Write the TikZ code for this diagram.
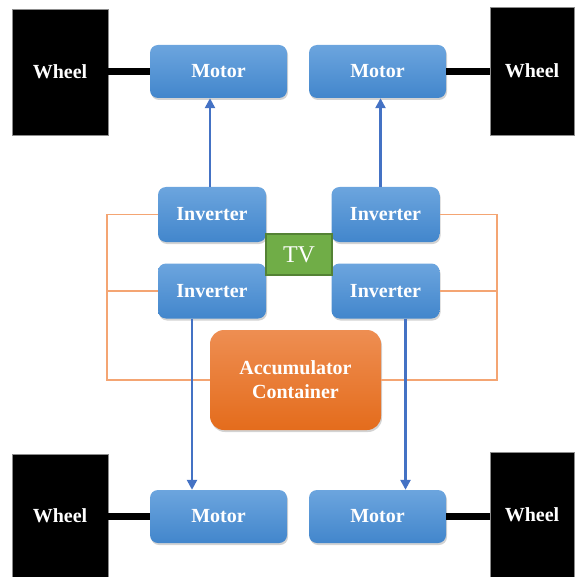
\documentclass[tikz,border=0pt]{standalone}
\usepackage{fontspec}
\setmainfont{Liberation Serif}
\usepackage{xcolor}
\usepackage{tikz}
\usetikzlibrary{shadows,arrows.meta}
\definecolor{boxtop}{RGB}{108,165,222}
\definecolor{boxbot}{RGB}{66,134,204}
\definecolor{acctop}{RGB}{238,142,82}
\definecolor{accbot}{RGB}{228,108,28}
\definecolor{tvfill}{RGB}{112,173,71}
\definecolor{tvline}{RGB}{84,130,53}
\definecolor{busline}{RGB}{244,165,115}
\definecolor{feed}{RGB}{68,114,196}

\begin{document}
\begin{tikzpicture}[x=1pt, y=-1pt,
  wheelbox/.style={draw=black!45, fill=black, minimum width=96pt, minimum height=126pt, text=white, font=\bfseries\fontsize{20}{22}\selectfont},
  bluebox/.style={rounded corners=8pt, top color=boxtop, bottom color=boxbot, draw=none, text=white, font=\bfseries\fontsize{20}{22}\selectfont, drop shadow={opacity=0.35, shadow xshift=1pt, shadow yshift=-2pt}},
  motorbox/.style={bluebox, minimum width=137pt, minimum height=53pt},
  invbox/.style={bluebox, minimum width=108pt, minimum height=55pt},
  axle/.style={line width=7pt, black},
  bus/.style={line width=1.4pt, busline},
  feedline/.style={line width=2.4pt, feed, -{Triangle[length=10pt, width=10pt]}}]
\useasboundingbox (0,0) rectangle (574,577);
\node[wheelbox] (wTL) at (60,72) {Wheel};
\node[wheelbox, minimum width=84pt, minimum height=128pt] (wTR) at (532,71) {Wheel};
\node[wheelbox, minimum height=124pt] (wBL) at (60,516) {Wheel};
\node[wheelbox, minimum width=84pt, minimum height=125pt] (wBR) at (532,514.5) {Wheel};
\node[motorbox] (mTL) at (218.5,71.5) {Motor};
\node[motorbox] (mTR) at (377.5,71.5) {Motor};
\node[motorbox] (mBL) at (218.5,516.5) {Motor};
\node[motorbox] (mBR) at (377.5,516.5) {Motor};
\node[invbox] (iTL) at (212,214.5) {Inverter};
\node[invbox] (iTR) at (385.5,214.5) {Inverter};
\node[invbox] (iBL) at (212,291) {Inverter};
\node[invbox] (iBR) at (385.5,291) {Inverter};
\node[draw=tvline, line width=1.2pt, fill=tvfill, minimum width=66pt, minimum height=41pt, text=white, font=\fontsize{24}{26}\selectfont] (tv) at (299,254.5) {TV};
\node[rounded corners=14pt, top color=acctop, bottom color=accbot, minimum width=171pt, minimum height=100pt, align=center, text=white, font=\bfseries\fontsize{20}{24}\selectfont, drop shadow={opacity=0.35, shadow xshift=1pt, shadow yshift=-2pt}] (acc) at (295.5,380) {Accumulator\\Container};
\coordinate (lbus) at (107,300);
\coordinate (rbus) at (497,300);
\draw[axle] (mTL.west) -- (mTL.west -| wTL.east);
\draw[axle] (mTR.east) -- (mTR.east -| wTR.west);
\draw[axle] (mBL.west) -- (mBL.west -| wBL.east);
\draw[axle] (mBR.east) -- (mBR.east -| wBR.west);
\draw[bus] (iTL.west) -- (iTL.west -| lbus) |- (acc.west);
\draw[bus] (iBL.west) -- (iBL.west -| lbus);
\draw[bus] (iTR.east) -- (iTR.east -| rbus) |- (acc.east);
\draw[bus] (iBR.east) -- (iBR.east -| rbus);
\draw[feedline] ([xshift=-2pt]iTL.north) -- ([xshift=-2pt]iTL.north |- mTL.south);
\draw[feedline] ([xshift=-5pt]iTR.north) -- ([xshift=-5pt]iTR.north |- mTR.south);
\draw[feedline] ([xshift=-20pt]iBL.south) -- ([xshift=-20pt]iBL.south |- mBL.north);
\draw[feedline] ([xshift=20pt]iBR.south) -- ([xshift=20pt]iBR.south |- mBR.north);
\end{tikzpicture}
\end{document}
